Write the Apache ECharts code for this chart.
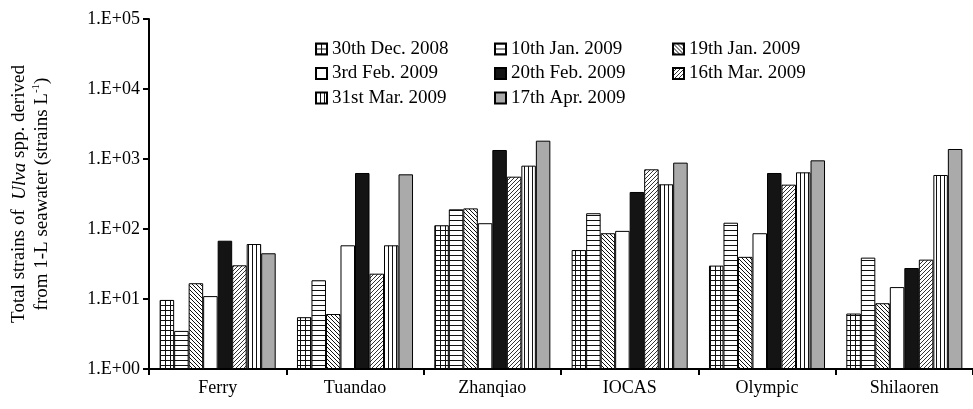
<!DOCTYPE html>
<html>
<head>
<meta charset="utf-8">
<script src="https://cdn.jsdelivr.net/npm/echarts@6/dist/echarts.min.js"></script>
<style>html,body{margin:0;padding:0;background:#fff;}#c{width:973px;height:409px;}</style>
</head>
<body>
<div id="c"></div>
<script>
const categories = ['Ferry', 'Tuandao', 'Zhanqiao', 'IOCAS', 'Olympic', 'Shilaoren'];
const seriesNames = ['30th Dec. 2008', '10th Jan. 2009', '19th Jan. 2009', '3rd Feb. 2009',
  '20th Feb. 2009', '16th Mar. 2009', '31st Mar. 2009', '17th Apr. 2009'];
const dec30 = [9.7, 5.5, 113, 50, 30, 6.2];
const jan10 = [3.5, 18.5, 191, 168, 123, 39];
const jan19 = [16.8, 6.1, 197, 87, 40, 8.7];
const feb3 = [11.0, 58.5, 121, 94, 87, 14.8];
const feb20 = [68, 631, 1345, 338, 631, 27.7];
const mar16 = [30.3, 23, 559, 712, 430, 36.5];
const mar31 = [61, 58.5, 803, 435, 645, 591];
const apr17 = [45, 604, 1827, 887, 957, 1390];
const yTickLabels = ['1.E+00', '1.E+01', '1.E+02', '1.E+03', '1.E+04', '1.E+05'];
const seriesValues = [dec30, jan10, jan19, feb3, feb20, mar16, mar31, apr17];

function pat(kind) {
  const c = document.createElement('canvas');
  const N = (kind === 'grid' || kind === 'horiz') ? 5 : 4;
  c.width = N; c.height = N;
  const g = c.getContext('2d');
  g.fillStyle = '#fff'; g.fillRect(0, 0, N, N);
  g.fillStyle = '#111';
  if (kind === 'grid') { g.fillRect(0, 0, N, 1); g.fillRect(0, 0, 1, N); }
  if (kind === 'horiz') { g.fillRect(0, 0, N, 1); }
  if (kind === 'vert') { g.fillRect(0, 0, 1, N); }
  if (kind === 'back' || kind === 'fwd') {
    g.strokeStyle = kind === 'back' ? '#111' : '#333';
    g.lineWidth = 1;
    g.beginPath();
    for (let k = -N; k <= N; k += N) {
      if (kind === 'back') { g.moveTo(k, 0); g.lineTo(k + N, N); }
      else { g.moveTo(k + N, 0); g.lineTo(k, N); }
    }
    g.stroke();
  }
  return { image: c, repeat: 'repeat' };
}
const fills = [pat('grid'), pat('horiz'), pat('back'), '#ffffff', '#141414', pat('fwd'), pat('vert'), '#aaaaaa'];

const font = 'Liberation Serif';
const chart = echarts.init(document.getElementById('c'), null, { renderer: 'canvas' });

function legendFor(names, left) {
  return {
    orient: 'vertical', left: left, top: 34, itemWidth: 11, itemHeight: 11, itemGap: 4.5,
    icon: 'rect', selectedMode: false,
    textStyle: { fontFamily: font, fontSize: 19, color: '#000', lineHeight: 20 },
    data: names
  };
}

chart.setOption({
  animation: false,
  backgroundColor: '#fff',
  legend: [
    legendFor([seriesNames[0], seriesNames[3], seriesNames[6]], 310),
    legendFor([seriesNames[1], seriesNames[4], seriesNames[7]], 489),
    legendFor([seriesNames[2], seriesNames[5]], 667)
  ],
  grid: { left: 145, top: 19, width: 838, height: 350 },
  xAxis: {
    type: 'category', data: categories, boundaryGap: true,
    axisLine: { lineStyle: { color: '#000', width: 2 } },
    axisTick: { show: true, length: 6, inside: false, lineStyle: { color: '#000', width: 2 } },
    axisLabel: { fontFamily: font, fontSize: 18, color: '#000', margin: 10 }
  },
  yAxis: {
    type: 'log', logBase: 10, min: 1, max: 100000,
    splitLine: { show: false }, minorTick: { show: false },
    axisLine: { show: true, lineStyle: { color: '#000', width: 2 } },
    axisTick: { show: true, length: 6, lineStyle: { color: '#000', width: 2 } },
    axisLabel: {
      fontFamily: font, fontSize: 18, color: '#000', margin: 9,
      formatter: v => yTickLabels[Math.round(Math.log10(v))]
    },
    name: 'Total strains of  {i|Ulva} spp. derived\nfrom 1-L seawater (strains L{s|-1})',
    nameLocation: 'middle', nameRotate: 90, nameGap: 95,
    nameTextStyle: {
      fontFamily: font, fontSize: 19, color: '#000', lineHeight: 23,
      rich: {
        i: { fontFamily: font, fontSize: 19, fontStyle: 'italic', color: '#000', lineHeight: 23 },
        s: { fontFamily: font, fontSize: 11, color: '#000', verticalAlign: 'top', lineHeight: 23, padding: [0, 0, 8, 0] }
      }
    }
  },
  series: seriesValues.map((vals, i) => ({
    name: seriesNames[i], type: 'bar', data: vals,
    barGap: '0%', barCategoryGap: '15.5%',
    itemStyle: { color: fills[i], borderColor: '#000', borderWidth: 1 }
  }))
});
</script>
</body>
</html>
